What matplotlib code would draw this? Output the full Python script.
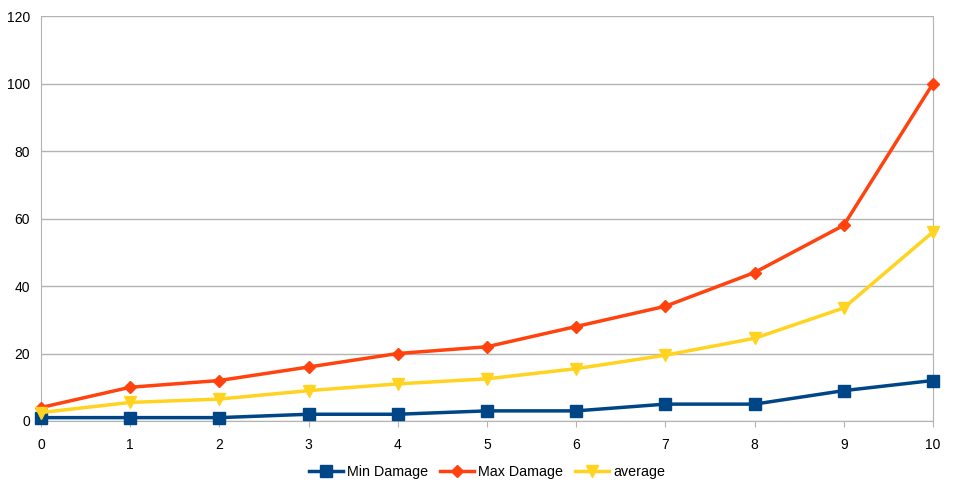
import matplotlib
matplotlib.use('Agg')
import matplotlib.pyplot as plt

plt.rcParams['font.family'] = ['Liberation Sans', 'DejaVu Sans']

levels = list(range(0, 11))
min_damage = [1, 1, 1, 2, 2, 3, 3, 5, 5, 9, 12]
max_damage = [4, 10, 12, 16, 20, 22, 28, 34, 44, 58, 100]
average = [2.5, 5.5, 6.5, 9, 11, 12.5, 15.5, 19.5, 24.5, 33.5, 56]

fig = plt.figure(figsize=(9.55, 4.92), dpi=100)
ax = fig.add_axes([41 / 955, 1 - 421 / 492, (933 - 41) / 955, (421 - 16) / 492])

ax.plot(levels, min_damage, color='#004586', lw=2.5, marker='s', ms=8,
        label='Min Damage', clip_on=False, zorder=3)
ax.plot(levels, max_damage, color='#ff420e', lw=2.5, marker='D', ms=6,
        label='Max Damage', clip_on=False, zorder=3)
ax.plot(levels, average, color='#ffd320', lw=2.5, marker='v', ms=9,
        label='average', clip_on=False, zorder=3)

ax.set_xlim(0, 10)
ax.set_ylim(0, 120)
ax.set_xticks(levels)
ax.set_yticks(range(0, 121, 20))
ax.grid(axis='y', color='#b3b3b3', lw=1)
ax.grid(axis='x', visible=False)
ax.set_axisbelow(True)
ax.spines['top'].set_visible(False)
for s in ['left', 'bottom', 'right']:
    ax.spines[s].set_color('#b3b3b3')
ax.tick_params(axis='y', length=0, labelsize=10, pad=8)
ax.tick_params(axis='x', length=4, color='#b3b3b3', labelsize=10, pad=8)

ax.legend(loc='upper center', bbox_to_anchor=(0.5, -0.078), ncol=3, frameon=False,
          fontsize=10.3, handlelength=2.4, columnspacing=0.8, handletextpad=0.3)

fig.savefig('out.png', dpi=100)
